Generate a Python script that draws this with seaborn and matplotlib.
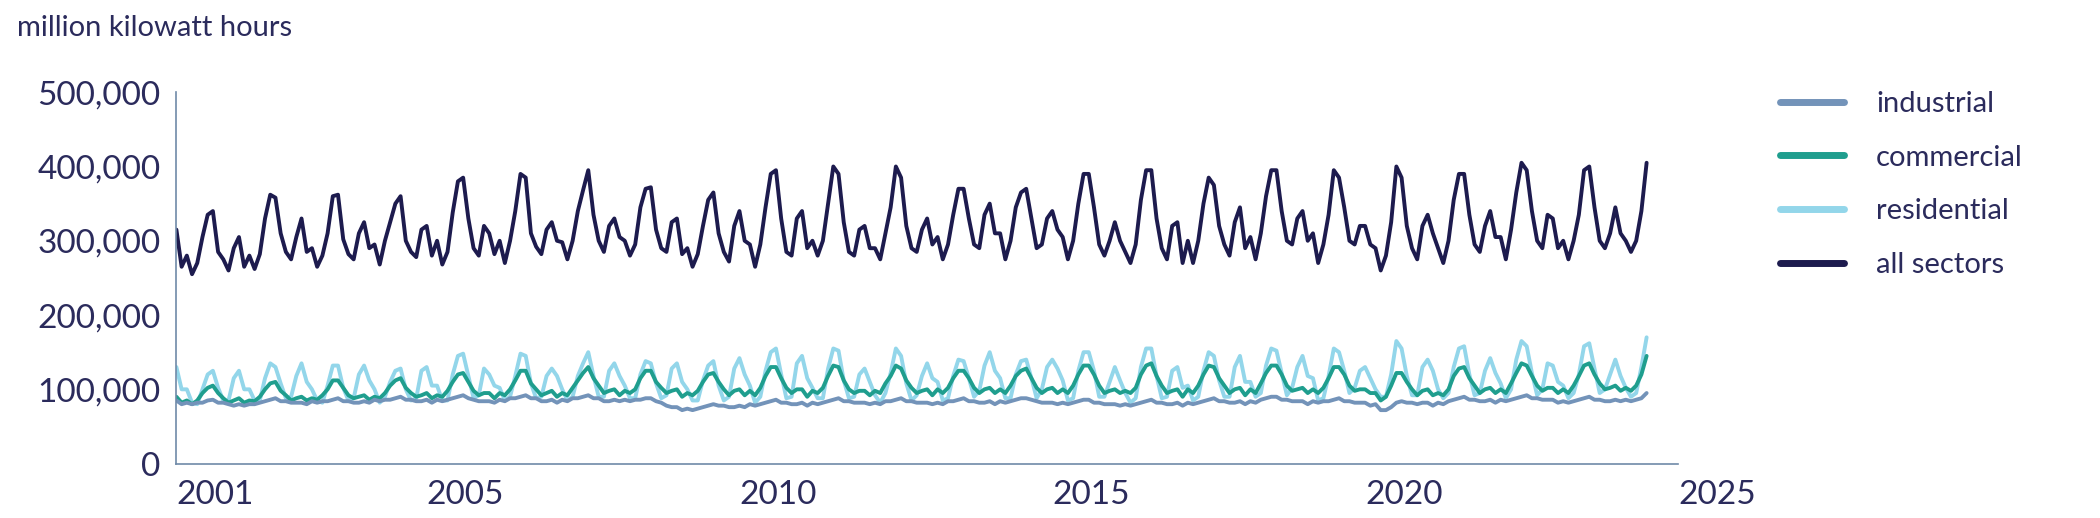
import pandas as pd
import numpy as np
import matplotlib
matplotlib.use("Agg")
import matplotlib.pyplot as plt
import seaborn as sns
from matplotlib.ticker import FuncFormatter

# monthly values, thousand million kWh, Jan 2001 .. Jul 2024
all_sectors = [
    [315,265,280,255,270,305,335,340,285,275,260,290],
    [305,265,280,262,282,330,362,358,310,285,275,305],
    [330,285,290,265,280,310,360,362,302,282,275,310],
    [325,290,295,268,300,325,350,360,300,285,278,315],
    [320,280,300,268,285,338,380,385,330,290,280,320],
    [310,282,300,270,300,340,390,385,310,292,282,315],
    [325,300,298,275,300,340,368,395,335,300,285,320],
    [330,305,300,280,295,345,370,372,315,290,285,325],
    [330,282,290,265,282,320,355,365,310,285,272,320],
    [340,300,295,265,295,345,390,395,330,285,280,330],
    [340,290,300,280,300,350,400,390,325,285,280,315],
    [320,290,290,275,310,345,400,385,320,290,285,315],
    [330,295,305,275,295,335,370,370,330,295,290,335],
    [350,310,310,275,300,345,365,370,330,290,295,330],
    [340,315,305,275,300,350,390,390,345,295,280,300],
    [325,300,285,270,295,355,395,395,330,290,275,320],
    [325,270,300,270,300,350,385,375,320,295,280,325],
    [345,290,305,275,310,360,395,395,340,300,295,330],
    [340,300,310,270,295,335,395,385,345,300,295,320],
    [320,295,290,260,280,325,400,385,320,290,275,320],
    [335,310,290,270,300,355,390,390,335,295,285,320],
    [340,305,305,275,315,365,405,395,340,300,290,335],
    [330,290,300,275,300,335,395,400,345,300,290,310],
    [345,310,300,285,300,340,405],
]
residential = [
    [130,100,100,82,80,100,120,125,102,85,85,115],
    [125,100,100,85,85,115,135,130,108,88,90,118],
    [135,110,100,85,82,105,132,132,102,85,88,120],
    [132,112,100,82,90,110,125,128,100,85,88,125],
    [130,105,105,85,85,120,145,148,118,88,92,128],
    [120,105,102,85,90,118,148,145,108,88,90,118],
    [128,118,100,85,90,118,135,150,118,90,90,125],
    [135,118,105,88,88,120,138,135,108,88,92,128],
    [135,110,100,85,85,112,132,138,105,85,90,128],
    [142,120,105,82,90,125,150,155,120,88,90,135],
    [145,115,102,88,88,128,155,152,112,88,90,120],
    [128,110,92,82,95,122,155,145,108,85,92,118],
    [135,115,110,85,88,118,140,138,115,90,98,132],
    [150,125,115,88,88,120,138,140,115,88,100,130],
    [140,128,112,85,88,125,150,150,125,90,90,110],
    [130,112,95,82,88,130,155,155,118,88,90,125],
    [130,102,105,85,90,125,150,145,112,90,90,130],
    [145,110,110,90,95,132,155,152,122,92,102,130],
    [145,118,115,85,88,118,155,150,125,95,102,125],
    [130,115,100,90,90,120,165,155,118,92,92,130],
    [140,125,100,88,95,130,155,158,120,92,95,125],
    [142,122,108,88,100,140,165,158,122,92,100,135],
    [132,110,105,88,95,120,158,162,128,95,100,120],
    [140,118,102,90,95,130,170],
]
commercial = [
    [90,82,85,80,85,95,102,105,95,88,82,85],
    [88,82,85,84,90,100,108,110,98,92,85,88],
    [90,85,88,86,92,100,112,112,102,92,88,90],
    [92,86,90,88,95,105,112,115,102,95,90,92],
    [95,88,92,90,98,110,120,122,110,98,92,95],
    [95,88,95,92,100,112,125,125,108,100,92,95],
    [98,90,95,92,102,112,122,130,115,105,95,98],
    [100,92,98,95,100,115,125,125,110,102,95,98],
    [100,90,95,92,98,110,120,122,110,100,92,98],
    [100,92,98,92,102,118,130,130,115,102,95,100],
    [100,90,98,95,102,118,132,130,112,100,95,98],
    [98,92,98,95,108,118,132,128,112,102,95,98],
    [100,92,100,95,102,115,125,125,115,102,95,100],
    [102,95,100,95,105,118,125,128,115,102,95,100],
    [102,95,100,95,105,120,132,132,120,105,95,98],
    [100,95,98,95,102,120,132,135,118,105,95,98],
    [100,90,100,95,105,120,132,130,115,105,95,100],
    [102,92,100,95,108,122,132,132,120,105,98,100],
    [102,95,100,95,102,115,130,130,120,105,98,100],
    [100,95,95,85,90,105,122,122,110,100,92,98],
    [100,92,95,92,100,118,128,130,115,105,95,100],
    [102,95,100,95,108,122,135,132,118,105,98,102],
    [102,95,100,95,105,118,132,135,120,108,100,102],
    [105,98,102,98,105,120,145],
]
industrial = [
    [85,80,82,80,82,82,85,86,82,82,80,78],
    [80,78,80,80,82,84,86,88,84,84,82,82],
    [82,80,84,82,84,84,86,88,84,84,82,82],
    [84,82,86,84,86,86,88,90,86,86,84,84],
    [86,82,86,84,86,88,90,92,88,86,84,84],
    [84,82,86,84,88,88,90,92,88,88,84,84],
    [86,82,86,84,88,88,90,92,88,88,84,84],
    [86,84,86,84,86,86,88,88,84,82,78,76],
    [76,72,74,72,74,76,78,80,78,78,76,76],
    [78,76,80,78,80,82,84,86,82,82,80,80],
    [82,78,82,80,82,84,86,88,84,84,82,82],
    [82,80,82,80,84,84,86,88,84,84,82,82],
    [82,80,82,80,84,84,86,88,84,84,82,82],
    [84,80,84,82,84,86,88,88,86,84,82,82],
    [82,80,82,80,82,84,86,86,82,82,80,80],
    [80,78,80,78,80,82,84,86,82,82,80,80],
    [82,78,82,80,82,84,86,88,84,84,82,82],
    [84,80,84,82,86,88,90,90,86,86,84,84],
    [84,80,84,82,84,84,86,88,84,84,82,82],
    [82,78,80,72,72,76,82,84,82,82,80,82],
    [82,78,82,80,84,86,88,90,86,86,84,84],
    [86,82,86,84,86,88,90,92,88,88,86,86],
    [86,82,84,82,84,86,88,90,86,86,84,84],
    [86,84,86,84,86,88,95],
]
start_year = 2001
series = {
    "residential": residential,
    "commercial": commercial,
    "industrial": industrial,
    "all sectors": all_sectors,
}
colors = {
    "industrial": "#7393b9",
    "commercial": "#1f9e8e",
    "residential": "#93d6ea",
    "all sectors": "#1d1b4e",
}
legend_order = ["industrial", "commercial", "residential", "all sectors"]

rows = []
for name, years in series.items():
    i = 0
    for yr in years:
        for v in yr:
            rows.append({"t": start_year + i / 12, "value": v * 1000, "sector": name})
            i += 1
df = pd.DataFrame(rows)

sns.set_theme(style="white")
plt.rcParams["font.family"] = ["Lato", "DejaVu Sans"]
text_c = "#2b2b5c"
axis_c = "#6f8aa8"

fig = plt.figure(figsize=(21, 5.18), dpi=100)
ax = fig.add_axes([0.084, 0.105, 0.715, 0.717])
sns.lineplot(data=df, x="t", y="value", hue="sector", palette=colors,
             hue_order=list(series.keys()), linewidth=2.8, ax=ax, legend=False)

ax.set_xlim(2001, 2025)
ax.set_ylim(0, 500000)
ax.set_xticks([2001, 2005, 2010, 2015, 2020, 2025])
ax.set_yticks(range(0, 500001, 100000))
ax.yaxis.set_major_formatter(FuncFormatter(lambda v, p: f"{int(v):,}"))
ax.tick_params(axis="both", labelsize=24, colors=text_c, length=8, width=1.2,
               direction="out", color=axis_c)
for lab in ax.get_xticklabels():
    lab.set_horizontalalignment("left")
ax.set_xlabel("")
ax.set_ylabel("")
for s in ["top", "right"]:
    ax.spines[s].set_visible(False)
for s in ["left", "bottom"]:
    ax.spines[s].set_color(axis_c)
    ax.spines[s].set_linewidth(1.2)

fig.text(0.008, 0.93, "million kilowatt hours", fontsize=21, color=text_c)

handles = [plt.Line2D([], [], color=colors[n], linewidth=5, solid_capstyle="round")
           for n in legend_order]
fig.legend(handles, legend_order, loc="upper left", bbox_to_anchor=(0.835, 0.875),
           frameon=False, fontsize=21, labelcolor=text_c, handlelength=2.2,
           handletextpad=1.1, labelspacing=0.95)

fig.savefig("out.png", dpi=100)
